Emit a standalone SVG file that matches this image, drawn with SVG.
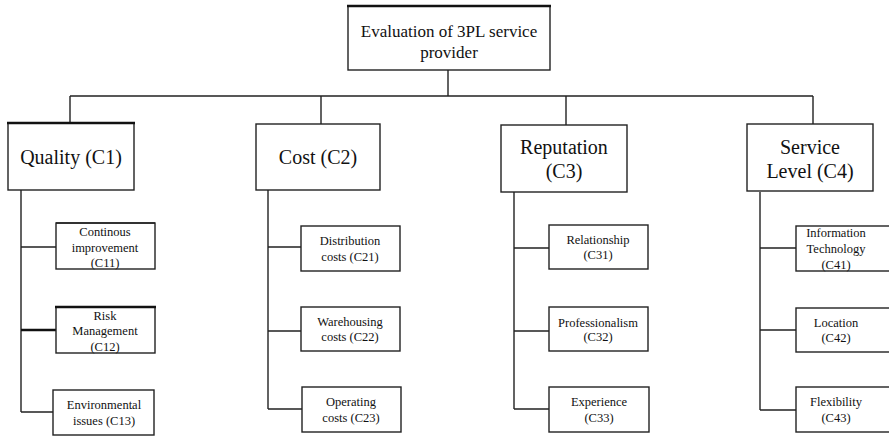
<svg xmlns="http://www.w3.org/2000/svg" width="889" height="436" viewBox="0 0 889 436">
<style>
.box{fill:#fff;stroke:#222;stroke-width:1.4}
.thick{stroke:#111;stroke-width:2.6;fill:none}
.ln{stroke:#222;stroke-width:1.4;fill:none}
text{fill:#111;text-anchor:middle}
.t0{font-size:17px}
.t1{font-size:20px}
.t2{font-size:12.5px}
</style>
<rect width="889" height="436" fill="#fff"/>
<g id="connectors">
<path class="ln" d="M448,70 V96 M70,96 H813 M70,96 V123 M321,96 V124 M566,96 V125 M813,96 V124"/>
<path class="ln" d="M21,190 V412 M21,247 H56 M21,412 H53"/>
<path class="thick" d="M21,330 H56"/>
<path class="ln" d="M268,190 V409 M268,247 H301 M268,331 H301 M268,409 H302"/>
<path class="ln" d="M514,192 V409 M514,248 H549 M514,331 H549 M514,409 H549"/>
<path class="ln" d="M760,192 V410 M760,248 H796 M760,330 H796 M760,410 H796"/>
</g>
<g font-family="Liberation Serif, DejaVu Serif, serif">
<g id="root">
<rect class="box" x="348" y="6" width="202" height="64"/>
<path class="thick" d="M347,6 H551"/>
<text class="t0" x="449" y="37">Evaluation of 3PL service</text>
<text class="t0" x="449" y="58">provider</text>
</g>
<g id="c1">
<rect class="box" x="8" y="123" width="126" height="67"/>
<path class="thick" d="M7,123 H135"/>
<text class="t1" x="71" y="164">Quality (C1)</text>
</g>
<g id="c2">
<rect class="box" x="256" y="124" width="124" height="66"/>
<text class="t1" x="318" y="164">Cost (C2)</text>
</g>
<g id="c3">
<rect class="box" x="501" y="125" width="126" height="67"/>
<text class="t1" x="564" y="154">Reputation</text>
<text class="t1" x="564" y="178">(C3)</text>
</g>
<g id="c4">
<rect class="box" x="747" y="124" width="126" height="67"/>
<text class="t1" x="810" y="154">Service</text>
<text class="t1" x="810" y="178">Level (C4)</text>
</g>
<g id="c11">
<rect class="box" x="56" y="223" width="99" height="46"/>
<path class="ln" d="M56,223 H155" stroke-width="2"/>
<text class="t2" x="105" y="236">Continous</text>
<text class="t2" x="105" y="252">improvement</text>
<text class="t2" x="105" y="267">(C11)</text>
</g>
<g id="c12">
<rect class="box" x="56" y="307" width="99" height="46"/>
<path class="thick" d="M55,307 H156"/>
<text class="t2" x="105" y="320">Risk</text>
<text class="t2" x="105" y="335">Management</text>
<text class="t2" x="105" y="351">(C12)</text>
</g>
<g id="c13">
<rect class="box" x="53" y="390" width="101" height="45"/>
<text class="t2" x="104" y="409">Environmental</text>
<text class="t2" x="104" y="425">issues (C13)</text>
</g>
<g id="c21">
<rect class="box" x="301" y="226" width="99" height="45"/>
<text class="t2" x="350" y="245">Distribution</text>
<text class="t2" x="350" y="261">costs (C21)</text>
</g>
<g id="c22">
<rect class="box" x="301" y="307" width="99" height="44"/>
<text class="t2" x="350" y="326">Warehousing</text>
<text class="t2" x="350" y="341">costs (C22)</text>
</g>
<g id="c23">
<rect class="box" x="302" y="387" width="99" height="45"/>
<text class="t2" x="351" y="406">Operating</text>
<text class="t2" x="351" y="422">costs (C23)</text>
</g>
<g id="c31">
<rect class="box" x="549" y="225" width="99" height="44"/>
<text class="t2" x="598" y="244">Relationship</text>
<text class="t2" x="598" y="259">(C31)</text>
</g>
<g id="c32">
<rect class="box" x="549" y="307" width="99" height="44"/>
<text class="t2" x="598" y="327">Professionalism</text>
<text class="t2" x="598" y="341">(C32)</text>
</g>
<g id="c33">
<rect class="box" x="549" y="387" width="100" height="45"/>
<text class="t2" x="599" y="406">Experience</text>
<text class="t2" x="599" y="422">(C33)</text>
</g>
<g id="c41">
<rect class="box" x="796" y="226" width="99" height="45"/>
<text class="t2" x="836" y="237">Information</text>
<text class="t2" x="836" y="253">Technology</text>
<text class="t2" x="836" y="269">(C41)</text>
</g>
<g id="c42">
<rect class="box" x="796" y="308" width="99" height="44"/>
<text class="t2" x="836" y="327">Location</text>
<text class="t2" x="836" y="342">(C42)</text>
</g>
<g id="c43">
<rect class="box" x="796" y="387" width="99" height="45"/>
<text class="t2" x="836" y="406">Flexibility</text>
<text class="t2" x="836" y="422">(C43)</text>
</g>
</g>
</svg>
